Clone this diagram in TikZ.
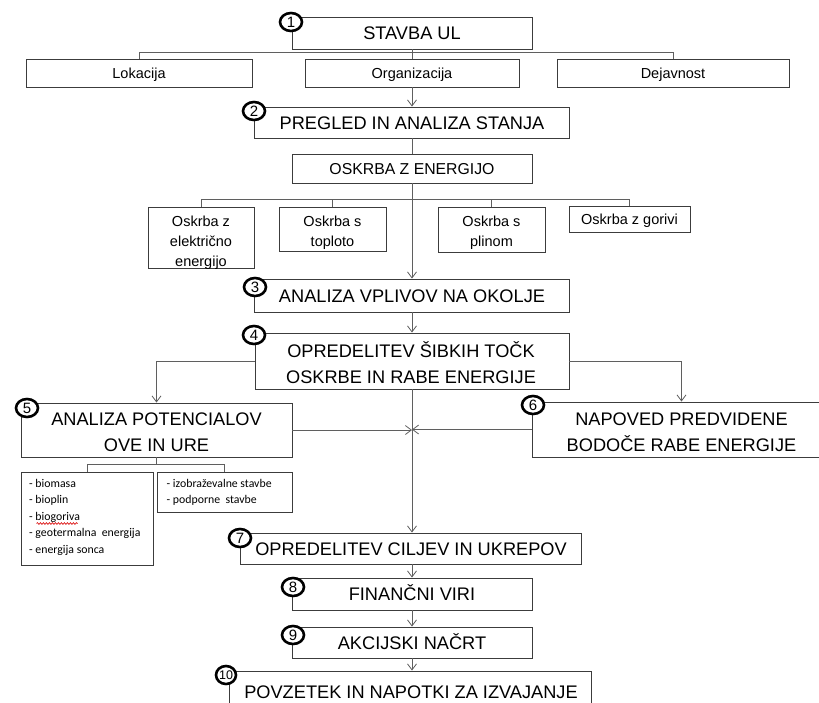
\documentclass[tikz,border=0pt]{standalone}
\usepackage{fontspec}
\setmainfont{Liberation Sans}
\newfontfamily\calibfont{Carlito}
\usetikzlibrary{arrows.meta,decorations.pathmorphing,shapes.geometric}
\definecolor{boxc}{RGB}{60,60,60}
\definecolor{linec}{RGB}{95,95,95}
\tikzset{
  box/.style={draw=boxc, line width=0.9pt, fill=white, inner sep=0pt},
  bigbox/.style={box, font=\fontsize{18.2}{26.5}\selectfont, text height=13pt, text depth=0pt},
  midbox/.style={box, font=\fontsize{15.8}{20}\selectfont, text height=11.3pt, text depth=0pt},
  smallbox/.style={box, font=\fontsize{14.5}{20}\selectfont, text height=10.4pt, text depth=0pt},
  bigtxt/.style={inner sep=0pt, anchor=base, font=\fontsize{18.2}{26.5}\selectfont},
  smalltxt/.style={inner sep=0pt, anchor=base, font=\fontsize{14.5}{20}\selectfont},
  lsttxt/.style={inner sep=0pt, anchor=base west, font=\calibfont\fontsize{11.8}{14}\selectfont},
  conn/.style={draw=linec, line width=0.8pt},
  arr/.style={conn, -{Straight Barb[length=6pt,width=9pt]}},
  num/.style={ellipse, draw=black, line width=2.6pt, fill=white, minimum width=22pt, minimum height=18pt, inner sep=0pt, font=\fontsize{15}{15}\selectfont},
}
\begin{document}
\begin{tikzpicture}[x=1pt,y=-1pt]
\useasboundingbox (0,0) rectangle (819,702);
\clip (0,0) rectangle (819,702);

% --- boxes ---
\node[bigbox, minimum width=240, minimum height=32] (b1) at (412,33) {STAVBA UL};
\node[smallbox, minimum width=226, minimum height=28] (lok) at (139,73) {Lokacija};
\node[smallbox, minimum width=214, minimum height=28] (org) at (412,73) {Organizacija};
\node[smallbox, minimum width=232, minimum height=28] (dej) at (673,73) {Dejavnost};
\node[bigbox, minimum width=315, minimum height=31] (b2) at (412,122.5) {PREGLED IN ANALIZA STANJA};
\node[midbox, minimum width=240, minimum height=29] (oske) at (412,168.5) {OSKRBA Z ENERGIJO};

\node[box, minimum width=106, minimum height=61] (el) at (201,237.5) {};
\node[box, minimum width=107, minimum height=44] (top) at (332.5,229) {};
\node[box, minimum width=107, minimum height=45] (pl) at (491.5,229.5) {};
\node[smallbox, minimum width=121, minimum height=26] (gor) at (629.5,219) {Oskrba z gorivi};

\node[smalltxt] (el1) at (201,226.7) {Oskrba z};
\node[smalltxt] (el2) at (201,246.7) {električno};
\node[smalltxt] (el3) at (201,266.7) {energijo};
\node[smalltxt] (to1) at (332.5,226.7) {Oskrba s};
\node[smalltxt] (to2) at (332.5,246.7) {toploto};
\node[smalltxt] (pl1) at (491.5,226.7) {Oskrba s};
\node[smalltxt] (pl2) at (491.5,246.7) {plinom};

\node[bigbox, minimum width=315, minimum height=33] (b3) at (412,295.5) {ANALIZA VPLIVOV NA OKOLJE};

\node[box, minimum width=314, minimum height=56] (b4) at (412,361) {};
\node[bigtxt] (b4a) at (411,357) {OPREDELITEV ŠIBKIH TOČK};
\node[bigtxt] (b4b) at (411,383) {OSKRBE IN RABE ENERGIJE};

\node[box, minimum width=271, minimum height=54] (b5) at (156.5,430) {};
\node[bigtxt] (b5a) at (156.5,425) {ANALIZA POTENCIALOV};
\node[bigtxt] (b5b) at (156.5,451.5) {OVE IN URE};

\node[box, minimum width=299, minimum height=55] (b6) at (681.5,429.5) {};
\node[bigtxt] (b6a) at (681.5,425) {NAPOVED PREDVIDENE};
\node[bigtxt] (b6b) at (681.5,451) {BODOČE RABE ENERGIJE};

\node[box, minimum width=132, minimum height=93] (s1) at (87,518.5) {};
\node[box, minimum width=135, minimum height=40] (s2) at (224.5,492) {};
\node[lsttxt] (l1) at (29,487) {- biomasa};
\node[lsttxt] (l2) at (29,503.5) {- bioplin};
\node[lsttxt] (l3) at (29,520) {- biogoriva};
\node[lsttxt] (l4) at (29,536.5) {- geotermalna~ energija};
\node[lsttxt] (l5) at (29,553) {- energija sonca};
\node[lsttxt] (r1) at (166.5,487) {- izobraževalne stavbe};
\node[lsttxt] (r2) at (166.5,503.5) {- podporne~ stavbe};
\draw[red!85!black, line width=0.6pt, decorate, decoration={snake, amplitude=0.9pt, segment length=3pt}] (36.5,523.5) -- (77.5,523.5);

\node[bigbox, minimum width=341, minimum height=31] (b7) at (411,548.5) {OPREDELITEV CILJEV IN UKREPOV};
\node[bigbox, minimum width=240, minimum height=32] (b8) at (412,594) {FINANČNI VIRI};
\node[bigbox, minimum width=240, minimum height=31] (b9) at (412,642.5) {AKCIJSKI NAČRT};
\node[box, minimum width=362, minimum height=40] (b10) at (410,691) {};
\node[bigtxt] (b10t) at (411,698.5) {POVZETEK IN NAPOTKI ZA IZVAJANJE};

% --- connectors ---
\coordinate (br1) at (412,52);
\coordinate (br2) at (412,199);
\coordinate (br3) at (156.5,464);
\draw[conn] (b1.south) -- (br1);
\draw[conn] (lok.north) -- (lok.north |- br1) -- (dej.north |- br1) -- (dej.north);
\draw[conn] (org.north) -- (org.north |- br1);
\draw[arr] (org.south) -- (org.south |- b2.north);
\draw[conn] (b2.south) -- (b2.south |- oske.north);
\draw[arr] (oske.south) -- (oske.south |- b3.north);
\draw[conn] (el.north) -- (el.north |- br2) -- (gor.north |- br2) -- (gor.north);
\draw[conn] (top.north) -- (top.north |- br2);
\draw[conn] (pl.north) -- (pl.north |- br2);
\draw[arr] (b3.south) -- (b3.south |- b4.north);
\draw[arr] (b4.west) -| (b5.north);
\draw[arr] (b4.east) -| (b6.north);
\draw[arr] (b4.south) -- (b4.south |- b7.north);
\draw[arr] (b5.east) -- (b5.east -| b4.south);
\draw[arr] (b6.west) -- (b6.west -| b4.south);
\draw[conn] (b5.south) -- (br3);
\draw[conn] (s1.north) -- (s1.north |- br3) -- (s2.north |- br3) -- (s2.north);
\draw[arr] (b7.south -| b8.north) -- (b8.north);
\draw[arr] (b8.south) -- (b9.north);
\draw[arr] (b9.south) -- (b9.south |- b10.north);

% --- numbered circles ---
\node[num] (n1) at (291,22) {1};
\node[num] (n2) at (254,111) {2};
\node[num] (n3) at (255,287) {3};
\node[num] (n4) at (254,335) {4};
\node[num] (n5) at (27,408) {5};
\node[num] (n6) at (533,405) {6};
\node[num] (n7) at (240,538) {7};
\node[num] (n8) at (293,587) {8};
\node[num] (n9) at (293,635) {9};
\node[num, minimum width=20pt, font=\fontsize{12.5}{12.5}\selectfont] (n10) at (226,675) {10};
\end{tikzpicture}
\end{document}
